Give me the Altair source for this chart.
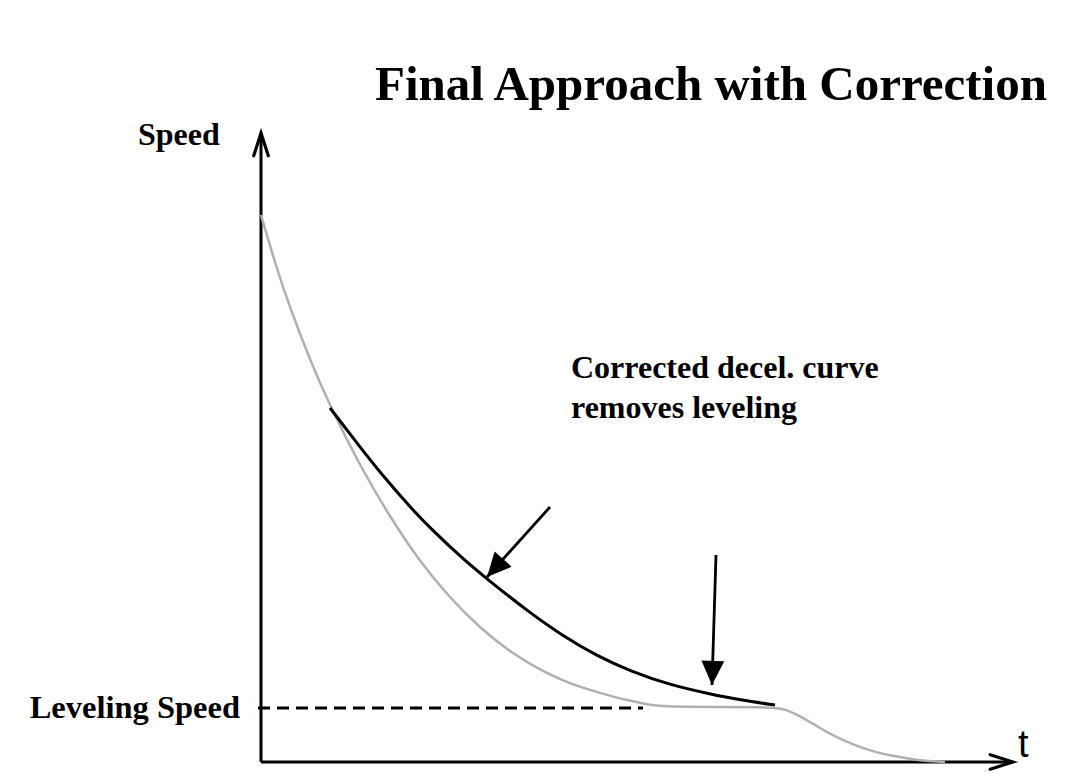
import altair as alt
import pandas as pd

# ---- data (t = time, v = speed, arbitrary units) ----
gray_t = [0.00, 0.14, 0.29, 0.49, 0.69, 0.99, 1.29, 1.59, 1.89, 2.19, 2.49, 2.79, 3.09, 3.39,
          3.69, 3.89, 4.09, 5.12, 5.24, 5.39, 5.54, 5.69, 5.84, 5.99, 6.14, 6.32, 6.49, 6.64, 6.84]
gray_v = [5.47, 4.99, 4.54, 4.02, 3.56, 2.96, 2.45, 2.00, 1.64, 1.34, 1.10, 0.92, 0.78, 0.69,
          0.61, 0.57, 0.55, 0.55, 0.53, 0.46, 0.37, 0.28, 0.21, 0.15, 0.10, 0.06, 0.03, 0.01, 0.00]

black_t = [0.69, 0.99, 1.22, 1.49, 1.69, 2.02, 2.26, 2.69, 3.02, 3.36, 3.69, 4.09, 4.49, 4.79, 5.14]
black_v = [3.54, 3.15, 2.86, 2.55, 2.34, 2.03, 1.83, 1.49, 1.26, 1.06, 0.91, 0.77, 0.68, 0.62, 0.57]

leveling_speed = 0.54
dash_t = [-0.03, 3.82]

axis_t_max = 7.52
axis_v_max = 6.29

# annotation arrows: tail -> tip
arrow_tail_t = [2.89, 4.55]
arrow_tail_v = [2.55, 2.07]
arrow_tip_t = [2.26, 4.51]
arrow_tip_v = [1.85, 0.77]
arrow_angle = [222, 182]

title_text = "Final Approach with Correction"
ylabel_text = "Speed"
xlabel_text = "t"
level_text = "Leveling Speed"
note_text = ["Corrected decel. curve", "removes leveling"]

# ---- frames ----
gray_df = pd.DataFrame({"t": gray_t, "v": gray_v, "i": range(len(gray_t))})
black_df = pd.DataFrame({"t": black_t, "v": black_v, "i": range(len(black_t))})
dash_df = pd.DataFrame({"t": dash_t, "v": [leveling_speed] * 2, "i": [0, 1]})
axes_df = pd.DataFrame({"t": [0, 0], "v": [0, 0], "t2": [axis_t_max, 0], "v2": [0, axis_v_max]})
chev_df = pd.DataFrame({"t": [axis_t_max, 0], "v": [0, axis_v_max], "a": [90, 0]})
arrow_df = pd.DataFrame({"t": arrow_tail_t, "v": arrow_tail_v,
                         "t2": arrow_tip_t, "v2": arrow_tip_v, "a": arrow_angle})

X = alt.Scale(domain=[-2.61, 8.27], nice=False, zero=False)
Y = alt.Scale(domain=[-0.13, 7.62], nice=False, zero=False)


def xe(f="t"):
    return alt.X(f"{f}:Q", scale=X, axis=None)


def ye(f="v"):
    return alt.Y(f"{f}:Q", scale=Y, axis=None)


axes = alt.Chart(axes_df).mark_rule(color="black", strokeWidth=3).encode(
    x=xe(), y=ye(), x2="t2:Q", y2="v2:Q")

chev = alt.Chart(chev_df).mark_point(
    shape="M-0.64,2L0,0L0.64,2", filled=False, size=520, color="black",
    strokeWidth=3.2, opacity=1, strokeCap="round", strokeJoin="miter").encode(
    x=xe(), y=ye(), angle=alt.Angle("a:Q", scale=None))

gray = alt.Chart(gray_df).mark_line(color="#b0b0b0", strokeWidth=2.5, interpolate="basis").encode(
    x=xe(), y=ye(), order="i:Q")

black = alt.Chart(black_df).mark_line(color="black", strokeWidth=3, interpolate="basis").encode(
    x=xe(), y=ye(), order="i:Q")

dash = alt.Chart(dash_df).mark_line(color="black", strokeWidth=3, strokeDash=[12, 7]).encode(
    x=xe(), y=ye(), order="i:Q")

shafts = alt.Chart(arrow_df).mark_rule(color="black", strokeWidth=2.8).encode(
    x=xe(), y=ye(), x2="t2:Q", y2="v2:Q")

heads = alt.Chart(arrow_df).mark_point(
    shape="M0,0L-0.95,2L0.95,2Z", filled=True, size=580, color="black", opacity=1).encode(
    x=xe("t2"), y=ye("v2"), angle=alt.Angle("a:Q", scale=None))

serif = "Liberation Serif"

title = alt.Chart(pd.DataFrame({"t": [4.50], "v": [6.62], "s": [title_text]})).mark_text(
    font=serif, fontWeight="bold", fontSize=49, align="center", baseline="alphabetic",
    color="black").encode(x=xe(), y=ye(), text="s:N")

ylab = alt.Chart(pd.DataFrame({"t": [-1.23], "v": [6.17], "s": [ylabel_text]})).mark_text(
    font=serif, fontWeight="bold", fontSize=32, align="left", baseline="alphabetic",
    color="black").encode(x=xe(), y=ye(), text="s:N")

lev = alt.Chart(pd.DataFrame({"t": [-0.21], "v": [0.44], "s": [level_text]})).mark_text(
    font=serif, fontWeight="bold", fontSize=32.5, align="right", baseline="alphabetic",
    color="black").encode(x=xe(), y=ye(), text="s:N")

note = alt.Chart(pd.DataFrame({"t": [3.10], "v": [3.84], "s": [note_text]})).mark_text(
    font=serif, fontWeight="bold", fontSize=32, align="left", baseline="alphabetic",
    lineHeight=40, color="black").encode(x=xe(), y=ye(), text="s:N")

xlab = alt.Chart(pd.DataFrame({"t": [7.57], "v": [0.05], "s": [xlabel_text]})).mark_text(
    font="Liberation Sans", fontSize=38, align="left", baseline="alphabetic",
    color="black").encode(x=xe(), y=ye(), text="s:N")

chart = alt.layer(axes, chev, dash, gray, black, shafts, heads, title, ylab, lev, note, xlab).properties(
    width=1088, height=775, padding=0, autosize=alt.AutoSizeParams(type="none"),
    background="white").configure_view(stroke=None)

chart.save("out.html", embed_options={"renderer": "svg", "actions": False})
